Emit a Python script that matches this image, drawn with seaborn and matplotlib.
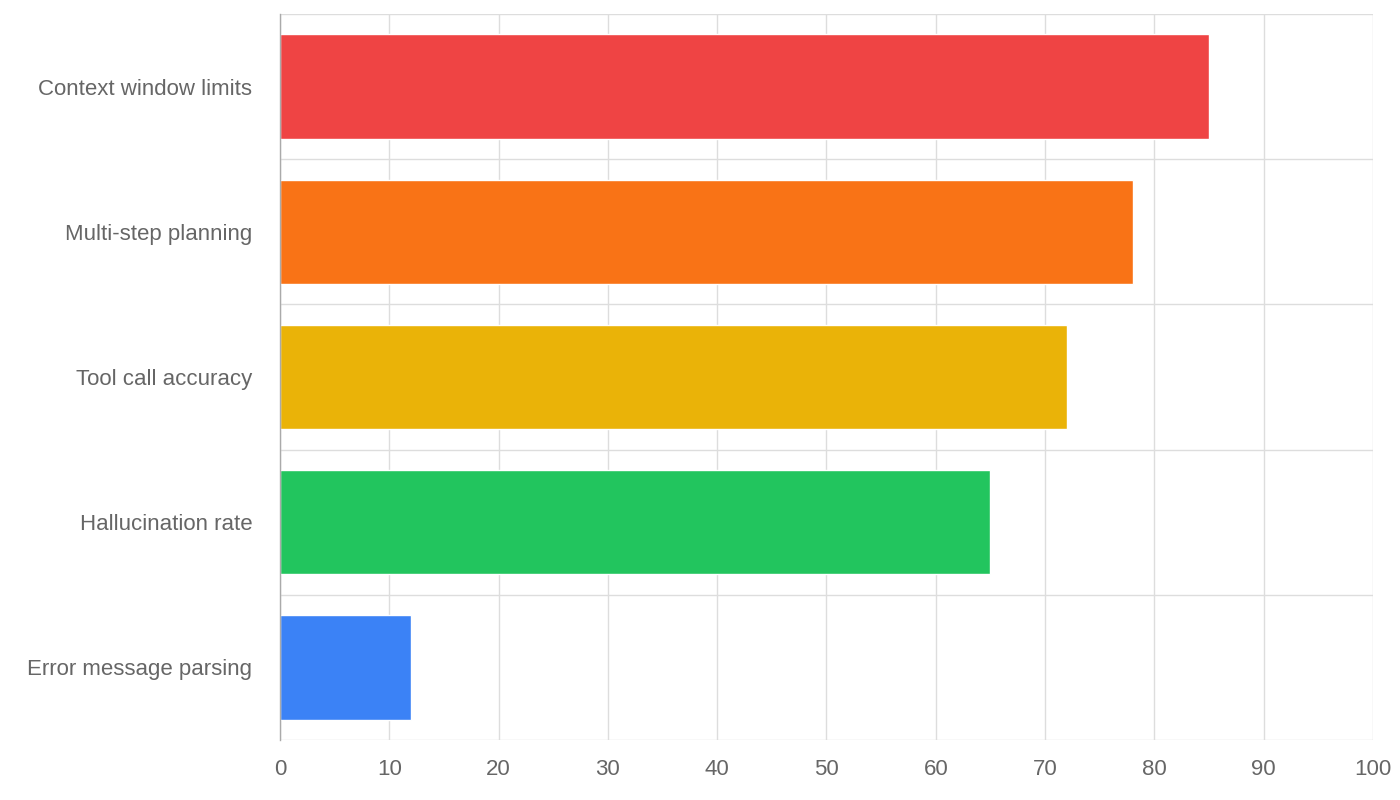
import numpy as np
import pandas as pd
import matplotlib.pyplot as plt
import seaborn as sns

categories = ["Context window limits", "Multi-step planning", "Tool call accuracy",
              "Hallucination rate", "Error message parsing"]
values = [85, 78, 72, 65, 12]
colors = ["#EF4444", "#F97316", "#EAB308", "#22C55E", "#3B82F6"]

sns.set_theme(style="white")
plt.rcParams['font.family'] = ['Liberation Sans', 'DejaVu Sans']

df = pd.DataFrame({"category": categories, "value": values})

fig = plt.figure(figsize=(14, 8), dpi=100)
ax = fig.add_axes([0.2, 0.075, 0.7807, 0.9075])
sns.barplot(data=df, x="value", y="category", hue="category", palette=colors,
            width=0.72, saturation=1, legend=False, ax=ax)

ax.set_xlim(0, 100)
ax.set_ylim(len(categories) - 0.5, -0.5)
ax.set_xticks(np.arange(0, 101, 10))
ax.set_xlabel("")
ax.set_ylabel("")

# band boundaries as minor ticks with grid
ax.set_yticks(np.arange(-0.5, len(categories), 1), minor=True)
ax.grid(axis="x", which="major", color="#dddddd", linewidth=1)
ax.grid(axis="y", which="minor", color="#dddddd", linewidth=1)
ax.set_axisbelow(True)

ax.tick_params(axis="y", which="major", length=0, pad=20, labelsize=16, labelcolor="#666666")
ax.tick_params(axis="y", which="minor", length=20, color="#dddddd", width=1)
ax.tick_params(axis="x", which="major", length=10, color="#dddddd", width=1,
               labelsize=16, labelcolor="#666666", pad=4)

for side in ["top", "right", "bottom"]:
    ax.spines[side].set_visible(False)
ax.spines["left"].set_color("#aaaaaa")
ax.spines["left"].set_linewidth(1)

fig.savefig("out.png", dpi=100)
